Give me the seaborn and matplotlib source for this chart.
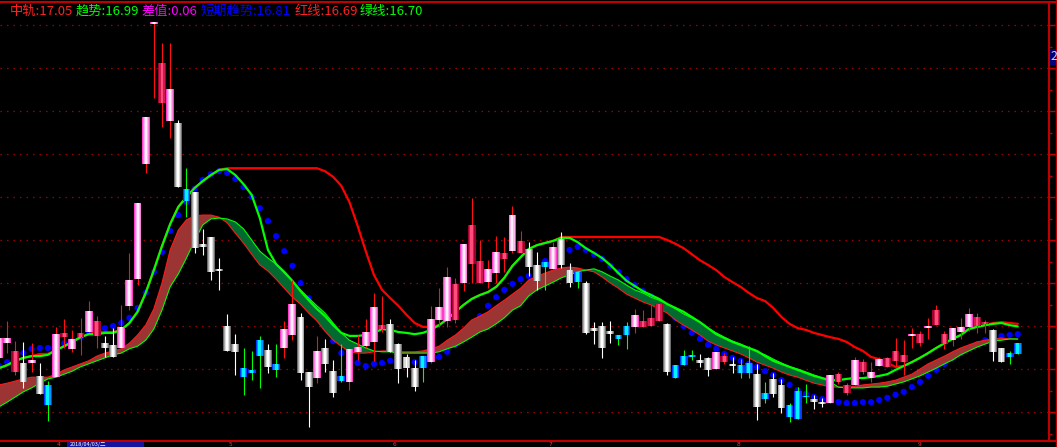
import numpy as np
import pandas as pd
import matplotlib
matplotlib.use("Agg")
import matplotlib.pyplot as plt
import seaborn as sns
from matplotlib.patches import Rectangle
from matplotlib.lines import Line2D


# ==============================
# 1. Data (prices)
# ==============================

# candle class per bar: p = pink up, r = dark red up, w = white down, c = cyan down
kinds = ("pprwpwcprp" "rprwwppppp" "rpwcwwwwww" "cccwcppwwp" "wwcpppprww"
         "wwcppprprr" "pprprwwcpw" "wcwwwwccpr" "rrwcccwwpr" "wccwcwwccc"
         "wwprrprppr" "rrprprrppp" "rrwwcc")

opens = [16.26, 16.60, 15.93, 16.14, 16.14, 15.84, 15.63, 15.81, 16.74, 16.47,
         16.74, 16.86, 16.77, 16.60, 16.56, 16.49, 17.47, 18.09, 20.77, 24.03,
         22.19, 21.77, 21.72, 20.19, 20.12, 18.91, 19.07, 18.33, 17.00, 16.58,
         16.02, 15.98, 16.67, 16.44, 16.12, 16.49, 16.79, 17.21, 15.93, 15.79,
         16.49, 15.95, 15.84, 15.70, 16.40, 16.53, 16.63, 16.93, 17.05, 16.58,
         16.28, 16.02, 16.30, 16.16, 17.14, 17.12, 17.14, 18.00, 18.44, 18.00,
         18.02, 18.23, 18.56, 18.74, 18.70, 18.79, 18.42, 18.49, 18.33, 19.02,
         18.30, 18.26, 18.00, 16.95, 17.00, 16.88, 16.79, 17.00, 16.98, 16.98,
         17.00, 17.12, 17.05, 16.09, 16.30, 16.33, 16.21, 16.26, 16.00, 16.16,
         16.12, 16.09, 16.14, 15.88, 15.44, 15.77, 15.63, 15.16, 15.49, 15.37,
         15.30, 15.23, 15.21, 15.70, 15.44, 15.63, 15.93, 15.79, 16.07, 16.05,
         16.19, 16.16, 16.77, 16.60, 16.95, 17.02, 16.58, 16.67, 16.86, 16.98,
         17.00, 17.05, 16.91, 16.49, 16.37, 16.60]

closes = [16.72, 16.72, 16.42, 15.70, 16.21, 15.42, 15.16, 16.81, 16.84, 16.70,
          16.84, 17.35, 17.12, 16.49, 16.28, 16.98, 18.07, 19.86, 21.86, 24.07,
          23.12, 22.51, 20.23, 19.91, 18.81, 18.84, 18.26, 18.28, 16.42, 16.40,
          15.81, 15.91, 16.30, 16.05, 15.98, 16.93, 17.51, 15.91, 15.58, 16.42,
          16.12, 15.44, 15.72, 16.47, 16.51, 16.86, 17.44, 17.02, 16.40, 16.00,
          16.02, 15.58, 16.02, 17.16, 17.44, 18.14, 17.98, 18.91, 19.35, 18.51,
          18.33, 18.72, 18.70, 19.58, 18.98, 18.37, 18.05, 18.37, 18.84, 18.42,
          18.00, 18.02, 16.84, 16.88, 16.49, 16.81, 16.70, 16.79, 17.26, 17.12,
          17.19, 17.51, 15.93, 15.79, 16.09, 16.28, 16.14, 15.98, 16.40, 16.30,
          16.07, 15.91, 15.91, 15.12, 15.30, 15.42, 15.09, 14.88, 14.84, 15.35,
          15.23, 15.19, 15.86, 15.88, 15.63, 16.21, 16.16, 15.93, 16.23, 16.26,
          16.42, 16.33, 16.81, 16.81, 17.00, 17.37, 16.81, 16.95, 16.98, 17.28,
          17.21, 17.09, 16.40, 16.16, 16.28, 16.35]

highs = [16.79, 17.12, 16.65, 16.63, 16.60, 16.14, 15.72, 16.98, 17.16, 16.91,
         17.19, 17.58, 17.23, 16.77, 16.95, 17.49, 18.70, 19.86, 21.86, 24.07,
         23.58, 23.58, 21.79, 20.67, 20.12, 19.26, 19.07, 18.58, 17.28, 16.81,
         16.49, 16.42, 16.77, 16.58, 16.58, 17.12, 18.07, 17.30, 15.93, 16.77,
         16.70, 16.21, 16.58, 16.49, 16.79, 17.16, 17.77, 17.70, 17.16, 16.60,
         16.35, 16.21, 16.30, 17.47, 17.88, 18.37, 18.12, 18.91, 19.98, 19.00,
         18.53, 19.09, 19.07, 19.79, 19.21, 18.95, 18.72, 18.49, 18.95, 19.19,
         18.47, 18.26, 18.05, 17.09, 17.09, 17.12, 16.79, 17.09, 17.40, 17.37,
         17.49, 17.51, 17.07, 16.09, 16.44, 16.44, 16.35, 16.28, 16.40, 16.37,
         16.28, 16.23, 16.53, 16.12, 15.70, 15.91, 15.77, 15.21, 15.58, 15.65,
         15.40, 15.33, 15.86, 15.93, 15.67, 16.28, 16.23, 16.16, 16.28, 16.28,
         16.72, 16.67, 16.95, 16.88, 17.19, 17.49, 16.88, 16.95, 17.19, 17.42,
         17.30, 17.14, 16.93, 16.49, 16.42, 16.60]

lows = [16.21, 16.37, 15.86, 15.56, 15.93, 15.42, 14.79, 15.81, 16.49, 16.40,
        16.33, 16.86, 16.49, 16.28, 16.28, 16.49, 17.37, 17.95, 20.56, 22.30,
        21.63, 21.37, 20.23, 19.53, 18.70, 18.65, 18.07, 17.84, 16.42, 15.86,
        15.40, 15.74, 15.56, 15.91, 15.81, 16.26, 16.67, 15.74, 14.65, 15.67,
        15.93, 15.35, 15.70, 15.51, 16.21, 16.49, 16.19, 16.86, 16.40, 15.67,
        15.81, 15.49, 15.70, 16.14, 16.98, 16.98, 17.07, 17.81, 18.00, 18.00,
        17.88, 18.00, 18.26, 18.70, 18.70, 18.16, 17.84, 17.84, 18.33, 18.35,
        17.91, 17.88, 16.81, 16.58, 16.26, 16.60, 16.56, 16.47, 16.84, 16.98,
        17.00, 17.12, 15.86, 15.79, 16.09, 16.21, 16.05, 15.84, 16.00, 16.12,
        15.91, 15.79, 15.79, 14.81, 15.21, 15.35, 14.98, 14.77, 14.84, 15.21,
        15.07, 15.12, 15.21, 15.65, 15.40, 15.63, 15.88, 15.70, 16.07, 16.05,
        16.05, 15.86, 16.49, 16.53, 16.70, 17.02, 16.47, 16.53, 16.70, 16.88,
        16.84, 16.84, 16.19, 16.16, 16.12, 16.35]

# 趋势 (thick green line)
trend = [16.02, 16.09, 16.19, 16.26, 16.30, 16.30, 16.33, 16.44, 16.53, 16.63,
         16.74, 16.81, 16.81, 16.84, 16.84, 16.91, 17.07, 17.33, 17.77, 18.30,
         18.86, 19.37, 19.77, 20.00, 20.21, 20.37, 20.51, 20.63, 20.65, 20.51,
         20.30, 20.05, 19.51, 18.77, 18.44, 18.26, 18.05, 17.81, 17.60, 17.40,
         17.23, 17.02, 16.84, 16.77, 16.77, 16.79, 16.84, 16.93, 16.91, 16.86,
         16.84, 16.81, 16.84, 16.91, 17.02, 17.16, 17.33, 17.49, 17.63, 17.72,
         17.79, 17.91, 18.12, 18.40, 18.60, 18.79, 18.88, 18.93, 18.98, 19.05,
         19.05, 18.95, 18.81, 18.70, 18.58, 18.42, 18.23, 18.05, 17.93, 17.81,
         17.72, 17.63, 17.51, 17.42, 17.33, 17.21, 17.09, 16.95, 16.81, 16.72,
         16.63, 16.56, 16.49, 16.42, 16.30, 16.19, 16.12, 16.05, 15.98, 15.91,
         15.84, 15.79, 15.74, 15.74, 15.77, 15.79, 15.79, 15.81, 15.84, 15.88,
         15.98, 16.07, 16.16, 16.26, 16.37, 16.49, 16.60, 16.70, 16.79, 16.93,
         16.98, 17.02, 17.05, 17.07, 17.02, 16.99]

# 中轨 (thick red line)
mid = [16.02, 16.09, 16.19, 16.26, 16.30, 16.35, 16.35, 16.44, 16.53, 16.63,
       16.74, 16.81, 16.86, 16.86, 16.86, 16.91, 17.07, 17.33, 17.77, 18.30,
       18.86, 19.37, 19.77, 20.00, 20.21, 20.37, 20.51, 20.63, 20.67, 20.67,
       20.67, 20.67, 20.67, 20.67, 20.67, 20.67, 20.67, 20.67, 20.67, 20.67,
       20.60, 20.47, 20.26, 19.88, 19.33, 18.74, 18.19, 17.84, 17.65, 17.47,
       17.26, 17.07, 16.98, 16.98, 17.02, 17.16, 17.33, 17.49, 17.63, 17.72,
       17.79, 17.91, 18.12, 18.40, 18.60, 18.79, 18.88, 18.93, 18.98, 19.07,
       19.07, 19.07, 19.07, 19.07, 19.07, 19.07, 19.07, 19.07, 19.07, 19.07,
       19.07, 19.07, 19.00, 18.91, 18.81, 18.67, 18.53, 18.42, 18.30, 18.14,
       18.02, 17.91, 17.77, 17.65, 17.58, 17.42, 17.21, 17.05, 16.95, 16.91,
       16.84, 16.79, 16.74, 16.70, 16.63, 16.51, 16.42, 16.28, 16.23, 16.14,
       16.05, 16.07, 16.16, 16.26, 16.37, 16.49, 16.60, 16.70, 16.79, 16.93,
       16.98, 17.02, 17.07, 17.09, 17.07, 17.05]

# 短期趋势 (blue dots)
short = [16.07, 16.16, 16.26, 16.37, 16.47, 16.49, 16.49, 16.53, 16.60, 16.65,
         16.74, 16.86, 16.91, 16.95, 17.00, 17.07, 17.19, 17.42, 17.77, 18.26,
         18.72, 19.21, 19.58, 19.88, 20.19, 20.40, 20.53, 20.60, 20.56, 20.42,
         20.23, 20.00, 19.74, 19.44, 19.09, 18.74, 18.40, 18.00, 17.65, 17.30,
         16.98, 16.65, 16.37, 16.23, 16.14, 16.07, 16.12, 16.14, 16.19, 16.19,
         16.16, 16.16, 16.19, 16.23, 16.28, 16.40, 16.56, 16.77, 17.00, 17.23,
         17.47, 17.67, 17.84, 17.98, 18.09, 18.16, 18.35, 18.51, 18.65, 18.72,
         18.77, 18.84, 18.77, 18.67, 18.56, 18.40, 18.26, 18.09, 17.95, 17.81,
         17.70, 17.53, 17.37, 17.19, 17.00, 16.84, 16.70, 16.56, 16.47, 16.35,
         16.26, 16.19, 16.12, 16.05, 15.95, 15.86, 15.74, 15.63, 15.51, 15.42,
         15.35, 15.30, 15.26, 15.23, 15.21, 15.21, 15.23, 15.23, 15.28, 15.33,
         15.40, 15.47, 15.58, 15.70, 15.84, 15.98, 16.12, 16.26, 16.37, 16.49,
         16.58, 16.67, 16.72, 16.77, 16.79, 16.81]

# 红线 / 绿线 (band edges)
red_line = [15.63, 15.67, 15.72, 15.77, 15.81, 15.81, 15.81, 15.88, 15.98, 16.05,
            16.12, 16.19, 16.30, 16.37, 16.42, 16.47, 16.60, 16.79, 17.02, 17.40,
            18.00, 18.77, 19.23, 19.47, 19.56, 19.58, 19.58, 19.53, 19.40, 19.16,
            18.93, 18.67, 18.42, 18.28, 18.09, 17.88, 17.67, 17.51, 17.30, 17.12,
            16.88, 16.67, 16.53, 16.40, 16.37, 16.37, 16.40, 16.42, 16.42, 16.40,
            16.40, 16.40, 16.42, 16.47, 16.53, 16.67, 16.79, 16.95, 17.14, 17.23,
            17.33, 17.47, 17.60, 17.74, 17.88, 18.07, 18.16, 18.23, 18.30, 18.35,
            18.37, 18.35, 18.30, 18.26, 18.14, 18.00, 17.88, 17.74, 17.65, 17.56,
            17.49, 17.40, 17.30, 17.14, 17.02, 16.91, 16.79, 16.65, 16.56, 16.49,
            16.42, 16.35, 16.26, 16.16, 16.09, 16.02, 15.93, 15.86, 15.81, 15.74,
            15.67, 15.63, 15.58, 15.58, 15.58, 15.60, 15.63, 15.65, 15.67, 15.70,
            15.74, 15.81, 15.88, 16.00, 16.12, 16.21, 16.30, 16.40, 16.49, 16.56,
            16.63, 16.67, 16.70, 16.72, 16.70, 16.69]

green_line = [15.12, 15.23, 15.35, 15.47, 15.56, 15.67, 15.77, 15.81, 15.88, 15.95,
              16.05, 16.12, 16.19, 16.26, 16.33, 16.37, 16.47, 16.53, 16.67, 16.93,
              17.37, 17.91, 18.21, 18.58, 18.98, 19.35, 19.49, 19.51, 19.49, 19.42,
              19.26, 19.00, 18.74, 18.58, 18.44, 18.23, 18.05, 17.84, 17.65, 17.47,
              17.30, 17.07, 16.84, 16.67, 16.58, 16.49, 16.42, 16.40, 16.40, 16.37,
              16.37, 16.37, 16.37, 16.37, 16.40, 16.47, 16.53, 16.63, 16.74, 16.86,
              16.93, 17.05, 17.19, 17.37, 17.47, 17.70, 17.84, 17.93, 18.02, 18.12,
              18.19, 18.26, 18.30, 18.33, 18.26, 18.16, 18.07, 17.95, 17.84, 17.77,
              17.67, 17.60, 17.51, 17.40, 17.28, 17.19, 17.09, 16.95, 16.84, 16.74,
              16.65, 16.58, 16.49, 16.40, 16.33, 16.23, 16.14, 16.05, 16.00, 15.93,
              15.86, 15.79, 15.70, 15.58, 15.56, 15.56, 15.56, 15.58, 15.58, 15.60,
              15.65, 15.70, 15.77, 15.84, 15.93, 16.02, 16.12, 16.21, 16.33, 16.42,
              16.51, 16.58, 16.65, 16.67, 16.70, 16.70]

# axis decorations (bar positions of month starts and week marks)
month_ticks = [6.75, 27.85, 47.95, 67.0, 90.1, 112.3]
month_labels = ["4", "5", "6", "7", "8", "9"]
week_ticks = [22.6, 33.0, 38.0, 43.0, 52.9, 62.2, 72.8, 84.3, 95.5, 101.0, 106.8, 117.5, 123.2]
price_levels = list(range(15, 25))
cursor_date = "2018/04/03/二"


# ==============================
# 2. Build table
# ==============================

bars = pd.DataFrame({"open": opens, "close": closes, "high": highs,
                     "low": lows, "kind": list(kinds)})
bars["idx"] = np.arange(len(bars))
idx = bars["idx"].values
red_arr = np.array(red_line)
green_arr = np.array(green_line)


# ==============================
# 3. Style
# ==============================

sns.set_theme(style="dark", rc={"axes.facecolor": "black", "figure.facecolor": "black"})
plt.rcParams["font.family"] = ["Noto Sans CJK SC", "DejaVu Sans"]
plt.rcParams["axes.unicode_minus"] = False

W, H = 1057, 447
AX_RED = "#c00000"

fig = plt.figure(figsize=(W / 100, H / 100), dpi=100)
ax = fig.add_axes([0, 6 / H, 1049 / W, 439 / H])
ax.set_facecolor("black")

ax.set_xlim(0.1227, 128.83)
ax.set_ylim(14.326, 24.535)

# dotted price grid
ax.set_yticks(price_levels)
ax.set_yticks([p + 0.5 for p in price_levels[:-1]] + [14.5], minor=True)
ax.yaxis.grid(True, color="#a00000", linestyle=(0, (1.2, 4)), linewidth=0.9)
ax.xaxis.grid(False)
ax.set_axisbelow(True)


# ==============================
# 4. Indicators
# ==============================

sns.scatterplot(x=idx, y=short, color="#0000ff", s=20, edgecolor="none",
                marker="o", ax=ax, zorder=1.5, legend=False)

ax.fill_between(idx, red_arr, green_arr, where=red_arr >= green_arr,
                interpolate=True, color="#9c3434", linewidth=0, zorder=2)
ax.fill_between(idx, red_arr, green_arr, where=green_arr > red_arr,
                interpolate=True, color="#006a30", linewidth=0, zorder=2)
sns.lineplot(x=idx, y=red_line, color="#ff1a1a", linewidth=0.8, ax=ax, zorder=2.5)
sns.lineplot(x=idx, y=green_line, color="#00ff00", linewidth=0.8, ax=ax, zorder=2.5)

sns.lineplot(x=idx, y=mid, color="#ff0000", linewidth=1.6, ax=ax, zorder=3)
sns.lineplot(x=idx, y=trend, color="#00ff00", linewidth=1.6, ax=ax, zorder=3.1)


# ==============================
# 5. Candles (gradient bodies built from stacked bars)
# ==============================

wick_colors = {"p": "#ff1010", "r": "#ff1010", "w": "#ffffff", "c": "#00ff00"}
body_layers = {
    "p": [(0.96, "#ff3cc6"), (0.74, "#ff80dc"), (0.50, "#ffb8ee"), (0.24, "#ffeefb")],
    "r": [(0.96, "#a0002c"), (0.66, "#d01a4c"), (0.32, "#ff4c7c")],
    "w": [(0.96, "#6e6e6e"), (0.74, "#a8a8a8"), (0.50, "#dcdcdc"), (0.24, "#ffffff")],
    "c": [(0.96, "#0038ff"), (0.68, "#0090ff"), (0.36, "#00f4ff")],
}

ax.vlines(bars["idx"], bars["low"], bars["high"],
          colors=bars["kind"].map(wick_colors), linewidth=0.8, zorder=4)

body_bottom = bars[["open", "close"]].min(axis=1)
body_height = (bars["close"] - bars["open"]).abs().clip(lower=0.03)
for kind, layers in body_layers.items():
    sel = bars["kind"] == kind
    for width, col in layers:
        ax.bar(bars["idx"][sel], body_height[sel], width=width,
               bottom=body_bottom[sel], color=col, linewidth=0, zorder=5)


# ==============================
# 6. Axes frame, ticks, labels
# ==============================

for side in ["top", "left", "bottom"]:
    ax.spines[side].set_visible(False)
ax.spines["right"].set_color(AX_RED)
ax.spines["right"].set_linewidth(1.5)

ax.yaxis.set_ticks_position("right")
ax.tick_params(axis="y", which="major", direction="out", length=4.5, width=1,
               color=AX_RED, labelright=False, labelleft=False)
ax.tick_params(axis="y", which="minor", direction="out", length=2.5, width=1,
               color=AX_RED)

ax.set_xticks(month_ticks)
ax.set_xticks(week_ticks, minor=True)
ax.tick_params(axis="x", which="major", direction="out", length=5, width=1,
               color=AX_RED, labelbottom=False)
ax.tick_params(axis="x", which="minor", direction="out", length=2.5, width=1,
               color=AX_RED)
ax.set_xlabel("")
ax.set_ylabel("")

# frame lines running to the figure edge
fig.add_artist(Line2D([0, 1], [445 / H, 445 / H], color=AX_RED, lw=1.5))
fig.add_artist(Line2D([0, 1], [6 / H, 6 / H], color=AX_RED, lw=1.5))
fig.add_artist(Line2D([1055.5 / W, 1055.5 / W], [0, 1], color=AX_RED, lw=0.8))

# month labels squeezed into the strip under the axis line
for pos, lab in zip(month_ticks, month_labels):
    fig.text((-1 + 8.15 * pos + 3) / W, 0.2 / H, lab, color="#ff3030",
             fontsize=4.2, family="DejaVu Sans", va="bottom", ha="left")

# cursor date box at the bottom
fig.add_artist(Rectangle((67 / W, 0), 77 / W, 5.5 / H, transform=fig.transFigure,
                         facecolor="#1414a0", edgecolor="none"))
fig.text(70 / W, 0.2 / H, cursor_date, color="white", fontsize=4,
         va="bottom", ha="left")

# price marker box on the right axis
fig.add_artist(Rectangle((1049.5 / W, (H - 65) / H), 7 / W, 16 / H,
                         transform=fig.transFigure, facecolor="#00007a",
                         edgecolor="none"))
fig.text(1050 / W, (H - 57) / H, "2", color="#d0d0ff", fontsize=9,
         va="center", ha="left")

# header with last values
header = [
    (f"中轨:{mid[-1]:.2f}", 10, "#ff2020"),
    (f"趋势:{trend[-1]:.2f}", 76, "#00ff00"),
    (f"差值:{mid[-1] - trend[-1]:.2f}", 142, "#ff00ff"),
    (f"短期趋势:{short[-1]:.2f}", 200, "#0000ff"),
    (f"红线:{red_line[-1]:.2f}", 295, "#ff2020"),
    (f"绿线:{green_line[-1]:.2f}", 360, "#00ff00"),
]
for text, px, col in header:
    fig.text(px / W, (H - 11) / H, text, color=col, fontsize=9.5, va="center", ha="left")

fig.savefig("out.png", dpi=100, facecolor="black")
plt.close()
